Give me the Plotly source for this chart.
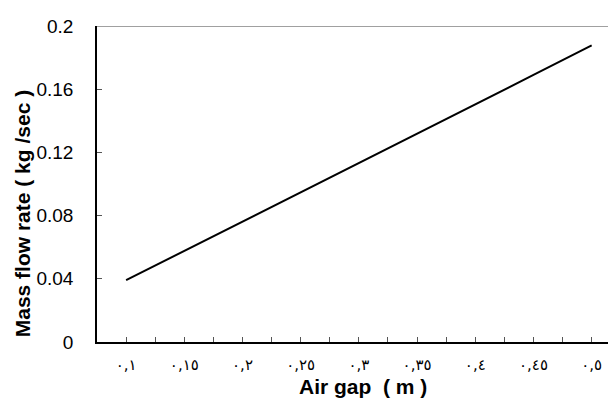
import plotly.graph_objects as go

# Data
air_gap = [0.10, 0.15, 0.20, 0.25, 0.30, 0.35, 0.40, 0.45, 0.50]
mass_flow = [0.0391, 0.0576, 0.0762, 0.0946, 0.1131, 0.1317, 0.1503, 0.1690, 0.1877]

x_tick_vals = [0.1, 0.125, 0.15, 0.175, 0.2, 0.225, 0.25, 0.275, 0.3,
               0.325, 0.35, 0.375, 0.4, 0.425, 0.45, 0.475, 0.5]
x_tick_text = ["٠,١", "", "٠,١٥", "", "٠,٢", "", "٠,٢٥", "", "٠,٣",
               "", "٠,٣٥", "", "٠,٤", "", "٠,٤٥", "", "٠,٥"]
y_tick_vals = [0, 0.04, 0.08, 0.12, 0.16, 0.2]
y_tick_text = ["0", "0.04", "0.08", "0.12", "0.16", "0.2"]

x_title = "<b>Air gap  ( m )</b>"
y_title = "<b>Mass flow rate ( kg /sec )</b>"

fig = go.Figure()
fig.add_trace(go.Scatter(
    x=air_gap, y=mass_flow, mode="lines",
    line=dict(color="black", width=2), showlegend=False,
))

fig.update_layout(
    width=616, height=414,
    margin=dict(l=89, r=8, t=10, b=80),
    plot_bgcolor="white", paper_bgcolor="white",
    font=dict(family="Liberation Sans, Arial, sans-serif", color="black"),
    xaxis=dict(
        range=[0.075, 0.5209],
        tickvals=x_tick_vals, ticktext=x_tick_text,
        ticks="inside", ticklen=5, tickcolor="#555555", tickwidth=1,
        tickfont=dict(family="DejaVu Sans", size=15, color="black"),
        ticklabelstandoff=8, ticklabeloverflow="allow",
        showline=True, linecolor="black", linewidth=1.5,
        showgrid=False, zeroline=False,
    ),
    yaxis=dict(
        range=[0, 0.2],
        tickvals=y_tick_vals, ticktext=y_tick_text,
        ticks="inside", ticklen=5, tickcolor="#555555", tickwidth=1,
        tickfont=dict(size=19, color="black"),
        ticklabelstandoff=18, ticklabeloverflow="allow",
        showline=True, linecolor="black", linewidth=1.5,
        showgrid=False, zeroline=False,
    ),
    annotations=[
        dict(text=x_title, xref="paper", yref="paper", x=0.5116, y=0,
             yshift=-44, xanchor="center", yanchor="middle", showarrow=False,
             font=dict(size=21)),
        dict(text=y_title, xref="paper", yref="paper", x=0, y=0.477,
             xshift=-75, yshift=-23, xanchor="center", yanchor="middle",
             showarrow=False, textangle=-90, font=dict(size=21)),
    ],
    shapes=[dict(type="line", xref="paper", yref="y", x0=0, x1=1, y0=0.2, y1=0.2,
                 line=dict(color="#808080", width=1.5))],
)

fig.write_html("out.html")
